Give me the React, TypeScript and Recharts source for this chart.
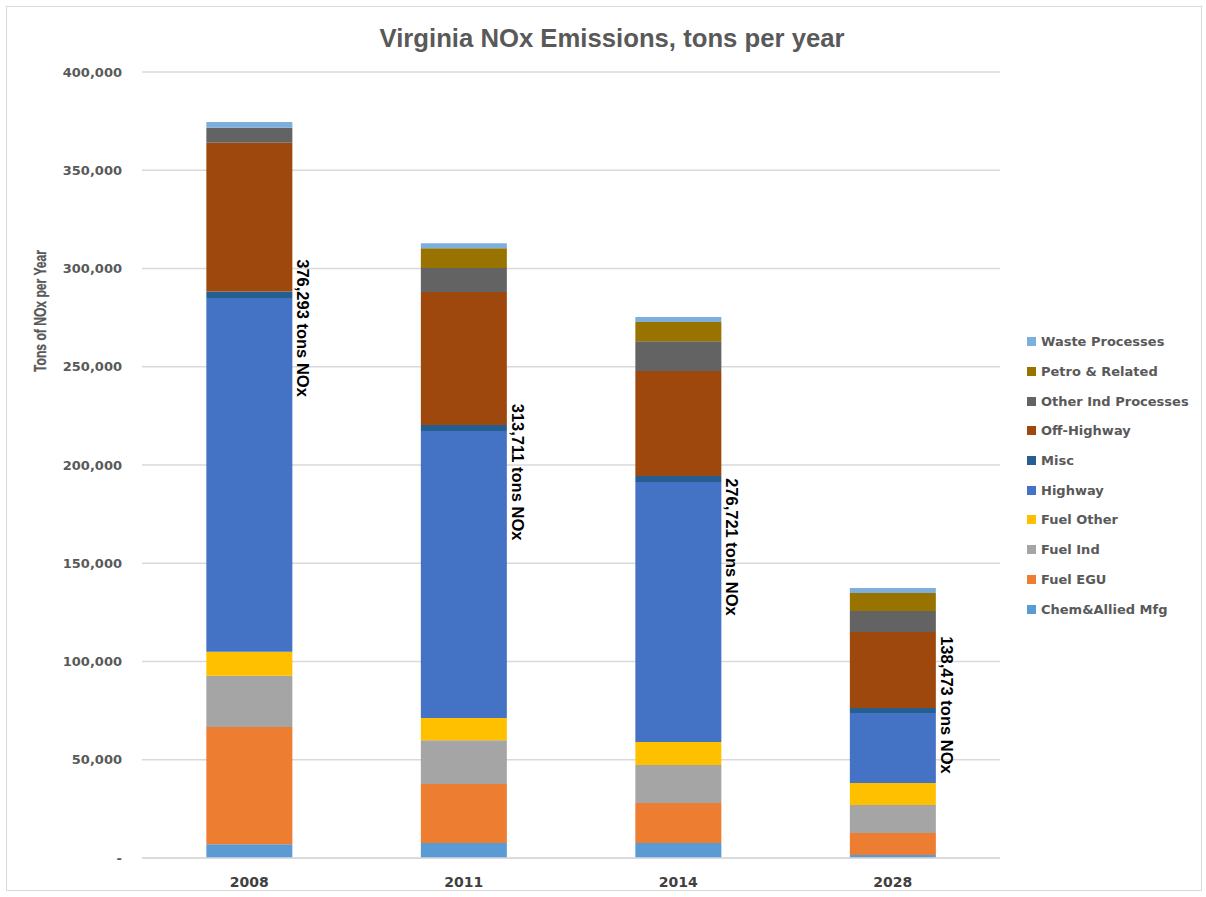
import { BarChart, Bar, XAxis, YAxis, CartesianGrid, Legend, ReferenceDot } from 'recharts';

const years = ['2008', '2011', '2014', '2028'];

const chemAllied = [7000, 7600, 7600, 1500];
const fuelEgu = [59700, 30000, 20400, 11200];
const fuelInd = [26000, 22300, 19300, 14300];
const fuelOther = [12300, 11300, 11700, 11200];
const highway = [180000, 146100, 132300, 35600];
const misc = [3300, 3100, 3100, 2500];
const offHighway = [75700, 67600, 53400, 38700];
const otherInd = [7600, 12300, 15200, 10700];
const petro = [0, 10000, 9800, 9200];
const waste = [3000, 2600, 2500, 2500];

const totalLabels = ['376,293 tons NOx', '313,711 tons NOx', '276,721 tons NOx', '138,473 tons NOx'];
// where the rotated total label is centred, in tons
const labelAnchor = [269700, 196400, 158300, 77900];

const yTicks = [0, 50000, 100000, 150000, 200000, 250000, 300000, 350000, 400000];

const series = [
  { key: 'chem', name: 'Chem&Allied Mfg', color: '#5B9BD5', values: chemAllied },
  { key: 'egu', name: 'Fuel EGU', color: '#ED7D31', values: fuelEgu },
  { key: 'ind', name: 'Fuel Ind', color: '#A5A5A5', values: fuelInd },
  { key: 'other', name: 'Fuel Other', color: '#FFC000', values: fuelOther },
  { key: 'highway', name: 'Highway', color: '#4472C4', values: highway },
  { key: 'misc', name: 'Misc', color: '#255E91', values: misc },
  { key: 'off', name: 'Off-Highway', color: '#9E480E', values: offHighway },
  { key: 'otherInd', name: 'Other Ind Processes', color: '#636363', values: otherInd },
  { key: 'petro', name: 'Petro & Related', color: '#997300', values: petro },
  { key: 'waste', name: 'Waste Processes', color: '#7CAFDD', values: waste },
];

const data = years.map((year, i) => {
  const row: any = { year };
  series.forEach((s) => (row[s.key] = s.values[i]));
  return row;
});

const FONT = '"DejaVu Sans", sans-serif';
const ARIAL = '"Liberation Sans", Arial, sans-serif';

const fmt = (v: number) => (v === 0 ? '-' : v.toLocaleString('en-US'));

const LegendContent = () => (
  <div style={{ fontFamily: FONT, fontWeight: 'bold', fontSize: 13, color: '#595959' }}>
    {[...series].reverse().map((s) => (
      <div key={s.key} style={{ display: 'flex', alignItems: 'center', height: 29.7 }}>
        <span style={{ width: 9, height: 9, background: s.color, marginRight: 5, display: 'inline-block' }} />
        <span>{s.name}</span>
      </div>
    ))}
  </div>
);

const TotalLabel = ({ viewBox, text }: any) => {
  const cx = viewBox.x + viewBox.width / 2 + 54;
  const cy = viewBox.y + viewBox.height / 2;
  return (
    <text
      x={cx}
      y={cy}
      transform={`rotate(90, ${cx}, ${cy})`}
      textAnchor="middle"
      dominantBaseline="central"
      fontFamily={ARIAL}
      fontWeight="bold"
      fontSize={16.5}
      fill="#000"
    >
      {text}
    </text>
  );
};

const YLabel = () => (
  <text
    x={40}
    y={311}
    transform="rotate(-90, 40, 311)"
    textAnchor="middle"
    dominantBaseline="central"
    fontFamily={ARIAL}
    fontWeight="bold"
    fontSize={17}
    fill="#595959"
    stroke="#595959"
    strokeWidth={0.3}
    textLength={122}
    lengthAdjust="spacingAndGlyphs"
  >
    Tons of NOx  per Year
  </text>
);

export default function App() {
  return (
    <div style={{ position: 'relative', width: 1206, height: 897, background: '#fff' }}>
      <style>{'body{margin:0}'}</style>
      <div
        style={{
          position: 'absolute',
          left: 6,
          top: 6,
          width: 1196,
          height: 885,
          border: '1px solid #D9D9D9',
          boxSizing: 'border-box',
        }}
      />
      <svg width={1206} height={70} style={{ position: 'absolute', left: 0, top: 0 }}>
        <text
          x={612}
          y={38}
          textAnchor="middle"
          dominantBaseline="central"
          fontFamily={ARIAL}
          fontWeight="bold"
          fontSize={25}
          fill="#595959"
          textLength={465}
          lengthAdjust="spacingAndGlyphs"
        >
          Virginia NOx Emissions, tons per year
        </text>
      </svg>
      <BarChart
        width={1206}
        height={897}
        data={data}
        margin={{ top: 72, right: 26, bottom: 9, left: 62 }}
        barCategoryGap="30%"
        style={{ position: 'absolute', left: 0, top: 0 }}
      >
        <CartesianGrid vertical={false} stroke="#D9D9D9" strokeWidth={1.5} />
        <XAxis
          dataKey="year"
          height={30}
          axisLine={{ stroke: '#D9D9D9', strokeWidth: 1.5 }}
          tickLine={false}
          tickSize={0}
          tickMargin={19}
          tick={{ fill: '#404040', fontFamily: FONT, fontWeight: 'bold', fontSize: 14 }}
        />
        <YAxis
          width={80}
          domain={[0, 400000]}
          ticks={yTicks}
          interval={0}
          tickFormatter={fmt}
          axisLine={false}
          tickLine={false}
          tickSize={0}
          tickMargin={20}
          tick={{ fill: '#595959', fontFamily: FONT, fontWeight: 'bold', fontSize: 13 }}
          label={<YLabel />}
        />
        <Legend
          layout="vertical"
          align="right"
          verticalAlign="top"
          content={<LegendContent />}
          wrapperStyle={{ position: 'absolute', left: 1027, top: 327, width: 180 }}
        />
        {series.map((s) => (
          <Bar key={s.key} dataKey={s.key} name={s.name} stackId="a" fill={s.color} isAnimationActive={false} />
        ))}
        {years.map((y, i) => (
          <ReferenceDot
            key={y}
            x={y}
            y={labelAnchor[i]}
            r={1}
            fill="none"
            stroke="none"
            label={<TotalLabel text={totalLabels[i]} />}
          />
        ))}
      </BarChart>
    </div>
  );
}
